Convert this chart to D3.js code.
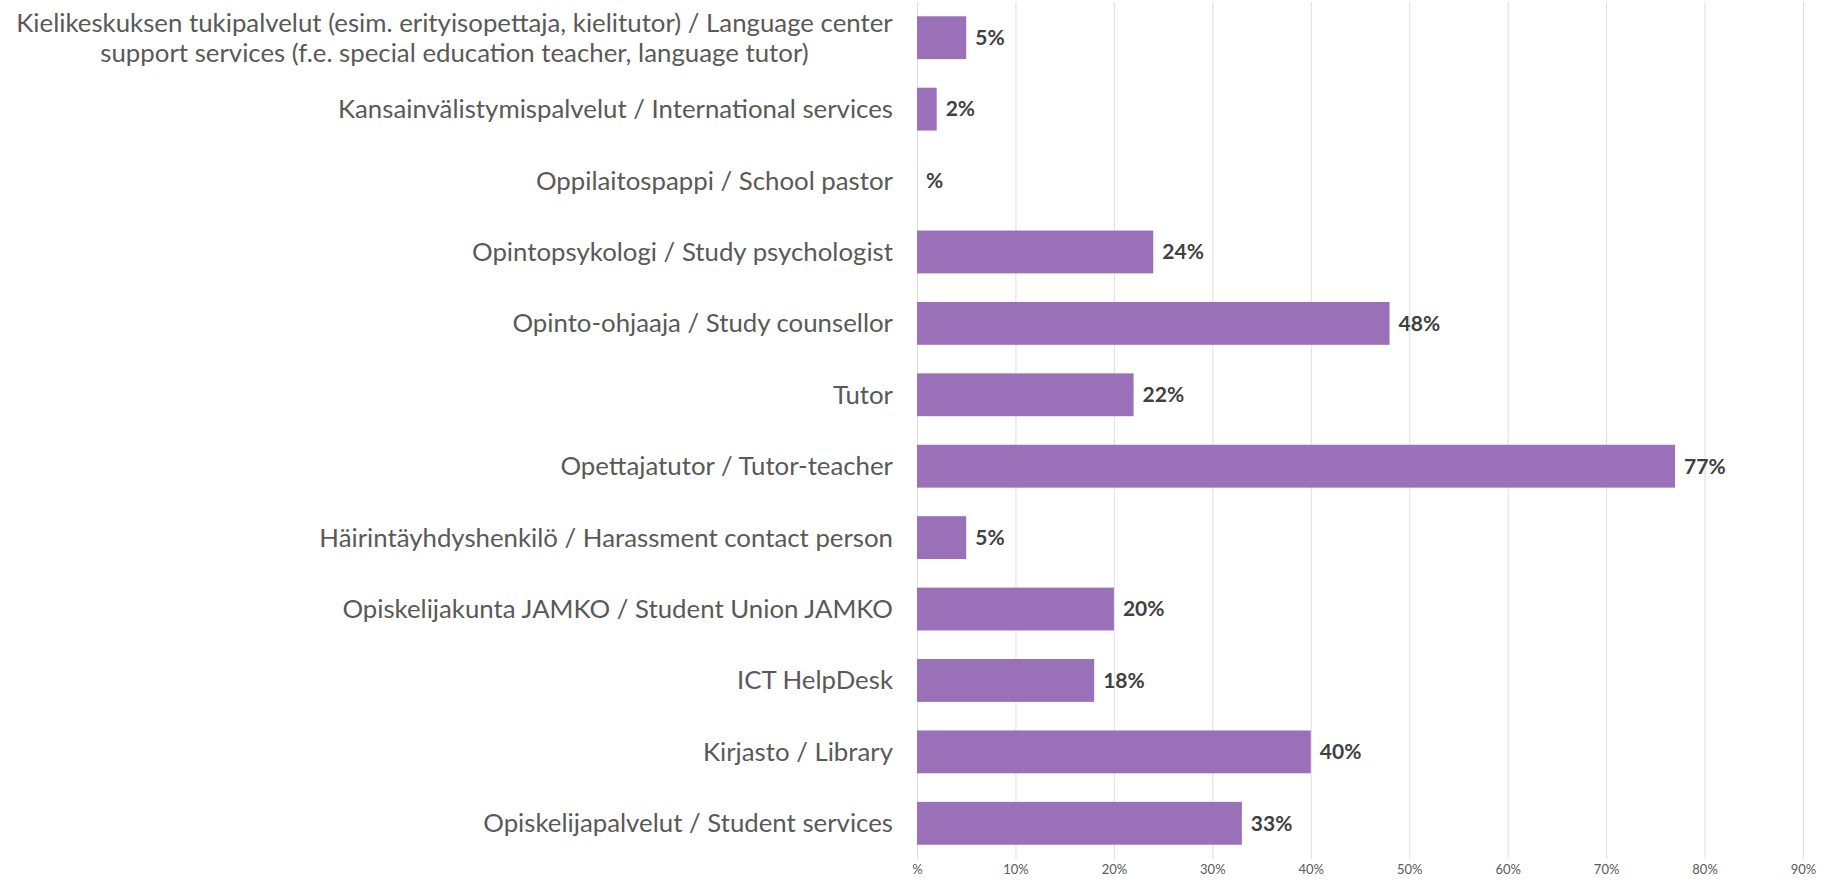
<!DOCTYPE html>
<html>
<head>
<meta charset="utf-8">
<script src="https://cdn.jsdelivr.net/npm/d3@7"></script>
<style>
  html, body { margin: 0; padding: 0; background: #fff; }
  svg { display: block; }
</style>
</head>
<body>
<svg id="chart" width="1823" height="884"></svg>
<script>
var categories = [
    "Kielikeskuksen tukipalvelut (esim. erityisopettaja, kielitutor) / Language center\nsupport services (f.e. special education teacher, language tutor)",
    "Kansainvälistymispalvelut / International services",
    "Oppilaitospappi / School pastor",
    "Opintopsykologi / Study psychologist",
    "Opinto-ohjaaja / Study counsellor",
    "Tutor",
    "Opettajatutor / Tutor-teacher",
    "Häirintäyhdyshenkilö / Harassment contact person",
    "Opiskelijakunta JAMKO / Student Union JAMKO",
    "ICT HelpDesk",
    "Kirjasto / Library",
    "Opiskelijapalvelut / Student services"
];
var values = [0.05, 0.02, 0, 0.24, 0.48, 0.22, 0.77, 0.05, 0.20, 0.18, 0.40, 0.33];
var ticks = [0, 0.1, 0.2, 0.3, 0.4, 0.5, 0.6, 0.7, 0.8, 0.9];

var svg = d3.select('#chart');
var plotLeft = 917, plotRight = 1803, plotTop = 2, plotBottom = 859;
var labelRight = 893;

var x = d3.scaleLinear().domain([0, 0.9]).range([plotLeft, plotRight]);
var y = d3.scaleBand().domain(d3.range(categories.length)).range([plotTop, plotBottom]).paddingInner(0.4).paddingOuter(0.2);

var pct = function (d) {
    var n = Math.round(d * 100);
    return n === 0 ? '%' : n + '%';
};

// gridlines
svg.append('g')
    .attr('transform', 'translate(0,' + plotBottom + ')')
    .call(d3.axisBottom(x).tickValues(ticks).tickSize(-(plotBottom - plotTop)).tickFormat(''))
    .call(function (g) { g.select('.domain').remove(); })
    .call(function (g) { g.selectAll('line').attr('stroke', '#dedede').attr('stroke-width', 1); });

// tick labels
svg.append('g')
    .attr('transform', 'translate(0,' + (plotBottom + 3) + ')')
    .call(d3.axisBottom(x).tickValues(ticks).tickSize(0).tickFormat(pct))
    .call(function (g) { g.select('.domain').remove(); })
    .call(function (g) {
        g.selectAll('text')
            .attr('fill', '#595959')
            .style('font-family', 'Lato, "Open Sans", sans-serif')
            .style('font-size', '13px');
    });

// bars
svg.append('g').selectAll('rect')
    .data(values)
    .enter().append('rect')
    .attr('x', x(0))
    .attr('y', function (d, i) { return y(i); })
    .attr('width', function (d) { return x(d) - x(0); })
    .attr('height', y.bandwidth())
    .attr('fill', '#9a70b9');

// value labels
svg.append('g').selectAll('text')
    .data(values)
    .enter().append('text')
    .attr('x', function (d) { return x(d) + 9; })
    .attr('y', function (d, i) { return y(i) + y.bandwidth() / 2; })
    .attr('dy', '0.35em')
    .attr('fill', '#404040')
    .style('font-family', 'Lato, "Open Sans", sans-serif')
    .style('font-weight', 'bold')
    .style('font-size', '21px')
    .text(pct);

// category labels
var labels = svg.append('g').selectAll('text')
    .data(categories)
    .enter().append('text')
    .attr('fill', '#595959')
    .style('font-family', 'Lato, "Open Sans", sans-serif')
    .style('font-size', '25.8px')
    .attr('y', function (d, i) { return y(i) + y.bandwidth() / 2; });

labels.each(function (d) {
    var el = d3.select(this),
        lines = d.split('\n');
    if (lines.length === 1) {
        el.attr('x', labelRight).attr('text-anchor', 'end').attr('dy', '0.35em').text(d);
    } else {
        // two centred lines, block right edge at the label column
        el.attr('text-anchor', 'middle');
        lines.forEach(function (line, j) {
            el.append('tspan')
                .attr('x', 0)
                .attr('dy', j === 0 ? '-0.22em' : '1.17em')
                .text(line);
        });
        var w = this.getBBox().width;
        el.selectAll('tspan').attr('x', labelRight - w / 2);
    }
});
</script>
</body>
</html>
